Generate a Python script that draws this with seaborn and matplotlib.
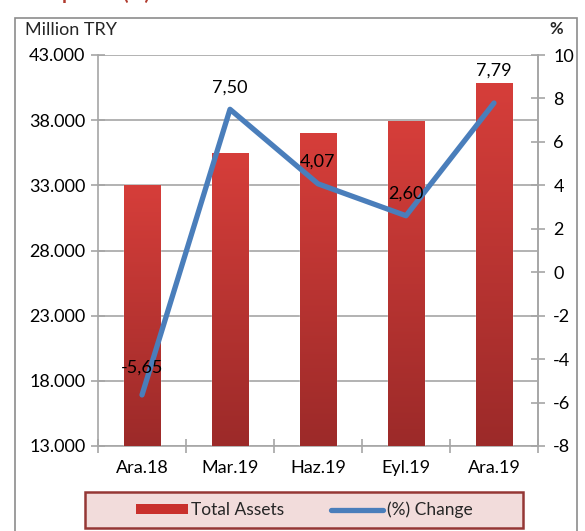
import numpy as np
import pandas as pd
import matplotlib
matplotlib.use("Agg")
import matplotlib.pyplot as plt
import seaborn as sns
from matplotlib.patches import Patch, Rectangle
from matplotlib.lines import Line2D
from matplotlib.colors import LinearSegmentedColormap

categories = ["Ara.18", "Mar.19", "Haz.19", "Eyl.19", "Ara.19"]
total_assets = [33000, 35450, 36950, 37870, 40780]
pct_change = [-5.65, 7.50, 4.07, 2.60, 7.79]
change_labels = ["-5,65", "7,50", "4,07", "2,60", "7,79"]
left_ticks = [13000, 18000, 23000, 28000, 33000, 38000, 43000]
left_tick_labels = ["13.000", "18.000", "23.000", "28.000", "33.000", "38.000", "43.000"]
right_ticks = [-8, -6, -4, -2, 0, 2, 4, 6, 8, 10]

sns.set_theme(style="white")
plt.rcParams["font.family"] = ["Lato", "DejaVu Sans"]

FS = 13
W, H = 585, 531
fig = plt.figure(figsize=(W / 100, H / 100), dpi=100)
ax = fig.add_axes([98 / W, 1 - 446 / H, (538 - 98) / W, (446 - 55) / H])

df = pd.DataFrame({"cat": categories, "assets": total_assets,
                   "pos": np.arange(len(categories)), "chg": pct_change})

sns.barplot(data=df, x="cat", y="assets", order=categories, color="#c9302c",
            width=0.41, ax=ax, zorder=3, saturation=1)

YMIN, YMAX = 13000, 43000
ax.set_ylim(YMIN, YMAX)
ax.set_xlim(-0.5, len(categories) - 0.5)
ax.set_yticks(left_ticks)
ax.set_yticklabels(left_tick_labels)
ax.set_xlabel("")
ax.set_ylabel("")
ax.yaxis.grid(True, color="#a6a6a6", linewidth=1.2, zorder=0)
ax.set_axisbelow(True)

# gradient fill for bars (visible part only)
cmap = LinearSegmentedColormap.from_list("g", ["#9c2a29", "#d63e3a"])
grad = np.linspace(0, 1, 256).reshape(-1, 1)
for p in list(ax.patches):
    x0, y0 = p.get_x(), p.get_y()
    w, h = p.get_width(), p.get_height()
    lo = max(y0, YMIN)
    hi = y0 + h
    ax.imshow(grad, cmap=cmap, aspect="auto", origin="lower",
              extent=[x0, x0 + w, lo, hi], zorder=3.5)
ax.set_xlim(-0.5, len(categories) - 0.5)
ax.set_ylim(YMIN, YMAX)

ax.spines["top"].set_visible(False)
for s in ["left", "bottom", "right"]:
    ax.spines[s].set_color("#a6a6a6")
    ax.spines[s].set_linewidth(1.2)

ax.tick_params(axis="y", direction="inout", length=10, width=1.2, color="#a6a6a6",
               labelsize=FS, labelcolor="black", pad=4, left=True)
ax.set_xticks(np.arange(len(categories)))
ax.set_xticklabels(categories)
ax.tick_params(axis="x", length=0, labelsize=FS, labelcolor="black", pad=10)
ax.set_xticks(np.arange(-0.5, len(categories)), minor=True)
ax.tick_params(axis="x", which="minor", direction="inout", length=10, width=1.2,
               color="#a6a6a6", bottom=True)

ax2 = ax.twinx()
sns.lineplot(data=df, x="pos", y="chg", ax=ax2, color="#4a7ebb", linewidth=3.8,
             sort=False, zorder=5)
ax2.set_ylim(-8, 10)
ax2.set_yticks(right_ticks)
ax2.set_yticklabels([str(t) for t in right_ticks])
ax2.set_xlim(-0.5, len(categories) - 0.5)
ax2.set_ylabel("")
ax2.set_xlabel("")
for s in ["top", "left", "bottom"]:
    ax2.spines[s].set_visible(False)
ax2.spines["right"].set_color("#a6a6a6")
ax2.spines["right"].set_linewidth(1.2)
ax2.tick_params(axis="y", direction="inout", length=10, width=1.2, color="#a6a6a6",
                labelsize=FS, labelcolor="black", pad=6, right=True)

offsets = [1.24, 1.0, 1.0, 1.0, 1.5]
for i, (v, lab) in enumerate(zip(pct_change, change_labels)):
    ax2.text(i, v + offsets[i], lab, ha="center", va="center",
             fontsize=FS, color="black", zorder=6)

# texts
fig.text(25 / W, 1 - 30 / H, "Million TRY", fontsize=FS, va="center", ha="left")
fig.text(556 / W, 1 - 29 / H, "%", fontsize=12, va="center", ha="center", weight="bold")
fig.text(0.0, 1.012, "Development (%)", fontsize=14, weight="bold", color="#b03a2e",
         va="center", ha="left")

# outer frame
fig.patches.append(Rectangle((15 / W, -0.01), (577 - 15) / W, 1 - 18 / H + 0.01,
                             transform=fig.transFigure, fill=False,
                             edgecolor="#8c8c8c", linewidth=1.2))

# legend box
fig.patches.append(Rectangle((85 / W, 1 - 528 / H), (523 - 85) / W, (528 - 492) / H,
                             transform=fig.transFigure, facecolor="#f2dcdb",
                             edgecolor="#953735", linewidth=1.8, zorder=1))

# legend
handles = [Patch(facecolor="#c9302c", edgecolor="none"),
           Line2D([0], [0], color="#4a7ebb", linewidth=3.8)]
leg = fig.legend(handles, ["Total Assets", "(%) Change"], loc="center",
                 bbox_to_anchor=((85 + 523) / 2 / W, 1 - 510 / H), ncol=2,
                 frameon=False, fontsize=12.5, handlelength=3.0, handleheight=0.55,
                 columnspacing=2.7, handletextpad=0.2, borderpad=0.3,
                 borderaxespad=0)
leg.set_zorder(5)

fig.savefig("out.png", dpi=100)
